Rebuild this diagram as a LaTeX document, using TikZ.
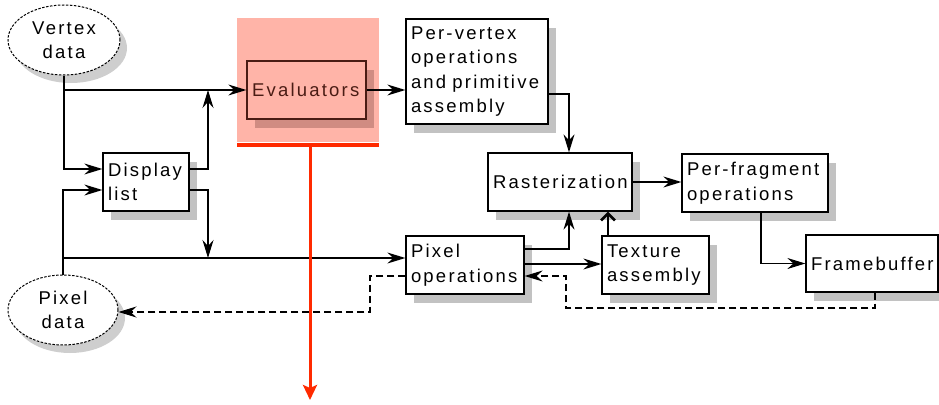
\documentclass[tikz,border=0pt]{standalone}
\usepackage{fontspec}
\setmainfont{Liberation Sans}[LetterSpace=12]
\usetikzlibrary{arrows.meta,shapes.geometric,shadows}
\definecolor{pinkhl}{HTML}{FFB4A8}
\definecolor{redln}{HTML}{FF2A00}
\definecolor{evborder}{HTML}{4A1C14}
\definecolor{evshadow}{HTML}{D08C82}
\definecolor{shd}{HTML}{C2C2C2}
\begin{document}
\begin{tikzpicture}[x=1pt,y=-1pt,
  lab/.style={font=\fontsize{18.5}{24.5}\selectfont},
  box/.style={draw, fill=white, line width=1.3pt, inner xsep=5pt, inner ysep=0pt, align=left, lab,
    drop shadow={shadow xshift=8pt, shadow yshift=-9pt, fill=shd, opacity=1}},
  ell/.style={ellipse, draw, dash pattern=on 2.5pt off 1.5pt, fill=white, line width=1pt, inner sep=0pt, align=center, lab,
    drop shadow={shadow xshift=7pt, shadow yshift=-8pt, fill=shd!80, opacity=1}},
  conn/.style={line width=1.3pt, -{Stealth[length=18pt,width=11pt,inset=6pt]}},
  dconn/.style={conn, dash pattern=on 7pt off 4pt},
  thickconn/.style={line width=2.6pt, -{Straight Barb[length=7pt,width=14pt]}},
  redconn/.style={line width=3pt, redln, -{Stealth[length=15pt,width=14pt,inset=3pt]}},
]
\useasboundingbox (0,0) rectangle (939,404);

% highlight
\node[fill=pinkhl, minimum width=142pt, minimum height=124pt, inner sep=0pt] (hl) at (308,80) {};

% ellipses
\node[ell, minimum width=112pt, minimum height=70pt] (vd) at (64,40) {Vertex\\data};
\node[ell, minimum width=110pt, minimum height=70pt] (pd) at (63,310) {Pixel\\data};

% boxes
\node[box, draw=evborder, text=evborder, fill=pinkhl,
  drop shadow={shadow xshift=8pt, shadow yshift=-9pt, fill=evshadow, opacity=1},
  minimum width=119pt, minimum height=58pt, text width=109pt] (ev) at (306.5,90) {Evaluators};
\node[box, minimum width=142pt, minimum height=105pt, text width=132pt] (pv) at (477,71.5) {Per-vertex\\operations\\and primitive\\assembly};
\node[box, minimum width=86pt, minimum height=58pt, text width=76pt] (dl) at (146,182) {Display\\list};
\node[box, minimum width=144pt, minimum height=58pt, text width=134pt] (ra) at (560,182) {Rasterization};
\node[box, minimum width=146pt, minimum height=58pt, text width=136pt] (pf) at (755,183) {Per-fragment\\operations};
\node[box, minimum width=118pt, minimum height=58pt, text width=108pt] (po) at (465,265) {Pixel\\operations};
\node[box, minimum width=107pt, minimum height=58pt, text width=97pt] (tx) at (655.5,265) {Texture\\assembly};
\node[box, minimum width=132pt, minimum height=57pt, text width=122pt] (fb) at (872,263.5) {Framebuffer};

% junction coordinates
\coordinate (up) at (208,90);
\coordinate (dn) at (208,258);
\coordinate (d1) at (566,308);
\coordinate (d2) at (370,276);
\coordinate (rl) at (310,145);
\coordinate (rb) at (310,400);
\coordinate (rlw) at (237,145);
\coordinate (rle) at (379,145);

% connectors
\draw[conn] (vd.south) |- (dl.west |- 0,169);
\draw[conn] (vd.south |- ev.west) -- (ev.west);
\draw[conn] (dl.east |- 0,169) -| (up);
\draw[conn] (dl.east |- 0,190) -| (dn);
\draw[conn] (pd.north) |- (dl.west |- 0,190);
\draw[conn] (pd.north |- 0,258) -- (po.west |- 0,258);
\draw[conn] (ev.east) -- (pv.west |- ev.east);
\draw[conn] (pv.east |- 0,94) -| (ra.north -| 569,0);
\draw[conn] (ra.east) -- (pf.west |- ra.east);
\draw[conn] (pf.south -| 761,0) |- (fb.west);
\draw[conn] (po.east |- 0,249) -| (ra.south -| 569,0);
\draw[conn] (po.east |- 0,264) -- (tx.west |- 0,264);
\draw[thickconn] (tx.north -| 608,0) -- (ra.south -| 608,0);
\draw[dconn] (fb.south -| 875,0) |- (d1) |- (po.east |- 0,276);
\draw[dconn] (po.west |- 0,276) -- (d2) |- (pd.east |- 0,312);

% red marker
\draw[redln, line width=3.5pt] (rlw) -- (rle);
\draw[redconn] (rl) -- (rb);
\end{tikzpicture}
\end{document}
